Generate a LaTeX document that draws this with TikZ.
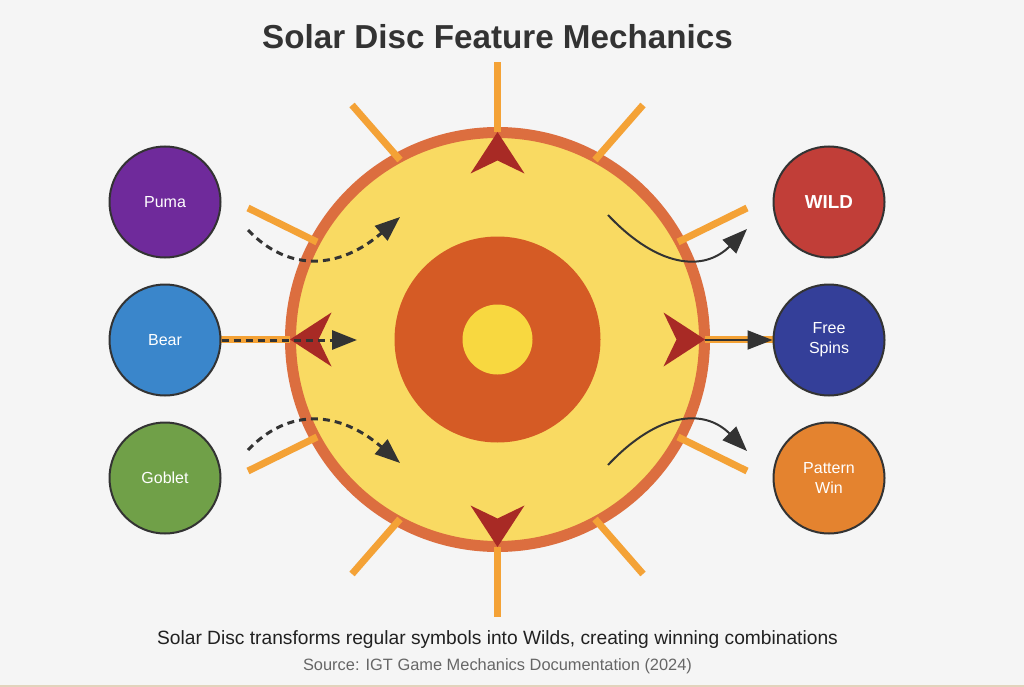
\documentclass[tikz,border=0pt]{standalone}
\usepackage{fontspec}
\setmainfont{Liberation Sans}
\usetikzlibrary{arrows.meta}
\definecolor{bgcol}{HTML}{F5F5F5}
\definecolor{titlegray}{HTML}{333333}
\definecolor{rayorange}{HTML}{F4A236}
\definecolor{ringorange}{HTML}{DC6E3F}
\definecolor{discyellow}{HTML}{F9DA62}
\definecolor{innerorange}{HTML}{D55B25}
\definecolor{coreyellow}{HTML}{F8D840}
\definecolor{tipred}{HTML}{A82A25}
\definecolor{arrgray}{HTML}{333333}
\definecolor{srcgray}{HTML}{666666}
\definecolor{edgetan}{HTML}{E2D3BC}
\definecolor{pumacol}{HTML}{6F2A9B}
\definecolor{bearcol}{HTML}{3A86CB}
\definecolor{gobletcol}{HTML}{70A048}
\definecolor{wildcol}{HTML}{C13E38}
\definecolor{spinscol}{HTML}{343F99}
\definecolor{wincol}{HTML}{E4832F}

\begin{document}
\begin{tikzpicture}[x=1pt,y=-1pt,
    sunray/.style={line width=7pt,draw=rayorange},
    redtip/.style={fill=tipred},
    symb/.style={circle,draw=arrgray,line width=2pt,minimum size=111pt,inner sep=0pt,
      text=white,align=center,font=\fontsize{16}{20}\selectfont},
    dasharr/.style={line width=3pt,draw=arrgray,dash pattern=on 7pt off 5pt,
      -{Triangle[length=25pt,width=19pt]}},
    solarr/.style={line width=2pt,draw=arrgray,-{Triangle[length=25pt,width=19pt]}}]
    \fill[bgcol] (0,0) rectangle (1024,687);
    \useasboundingbox (0,0) rectangle (1024,687);
    \draw[line width=1.5pt,draw=edgetan] (0,686.2)--(1024,686.2);
    \begin{scope}[shift={(497.5,339.5)}]
      \draw[line width=11pt,draw=ringorange,fill=discyellow] (0,0) circle (207);
      \fill[innerorange] (0,0) circle (103);
      \fill[coreyellow] (0,0) circle (35);
      \foreach \a in {0,90,180,270}
        \draw[sunray] (\a:207.5)--(\a:277.5);
      \foreach \sx/\sy in {1/1,1/-1,-1/1,-1/-1}{
        \draw[sunray] (\sx*97.5,\sy*179.5)--(\sx*145.5,\sy*234.5);
        \draw[sunray] (\sx*180.5,\sy*97.5)--(\sx*249.5,\sy*131.5);
      }
      \foreach \a in {0,90,180,270}
        \fill[redtip,rotate=\a] (207.5,0)--(166,27)--(179,0)--(166,-27)--cycle;
    \end{scope}
    \node (ta) at (497.5,49) [anchor=base,text=titlegray,font=\fontsize{33.2}{40}\selectfont\bfseries] {Solar Disc Feature Mechanics};
    \node[symb,fill=pumacol] (la) at (165,202) {Puma};
    \node[symb,fill=bearcol] (lb) at (165,340) {Bear};
    \node[symb,fill=gobletcol] (lc) at (165,478) {Goblet};
    \node[symb,fill=wildcol,font=\fontsize{18.8}{22}\selectfont\bfseries] (ra) at (829,202) {WILD};
    \node[symb,fill=spinscol] (rb) at (829,340) {Free\\Spins};
    \node[symb,fill=wincol] (rc) at (829,478) {Pattern\\Win};
    \coordinate (sa) at (248,230);
    \coordinate (ea) at (400,217);
    \coordinate (sb) at (357,340);
    \coordinate (sc) at (248,450);
    \coordinate (ec) at (400,463);
    \coordinate (sd) at (608,215);
    \coordinate (ed) at (747,229);
    \coordinate (se) at (705,340);
    \coordinate (sf) at (608,465);
    \coordinate (ef) at (747,451);
    \draw[dasharr] (sa) .. controls (289,273) and (340,269) .. (ea);
    \draw[dasharr] (lb)--(sb);
    \draw[dasharr] (sc) .. controls (289,407) and (340,411) .. (ec);
    \draw[solarr] (sd) .. controls (658,268) and (704,272) .. (ed);
    \draw[solarr] (se)--(rb);
    \draw[solarr] (sf) .. controls (658,412) and (704,408) .. (ef);
    \node (tb) at (497.5,644) [anchor=base,text=black!87,font=\fontsize{19.2}{23}\selectfont] {Solar Disc transforms regular symbols into Wilds, creating winning combinations};
    \node (tc) at (497.5,670) [anchor=base,text=srcgray,font=\fontsize{16.4}{20}\selectfont] {Source: IGT Game Mechanics Documentation (2024)};
  \end{tikzpicture}
\end{document}
